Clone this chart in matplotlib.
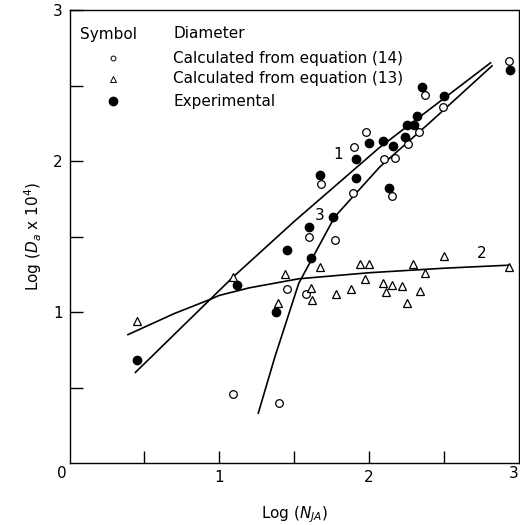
import matplotlib
matplotlib.use("Agg")
import matplotlib.pyplot as plt

# Experimental (filled circles)
exp_x = [0.45, 1.12, 1.38, 1.45, 1.61, 1.60, 1.76, 1.67, 1.91, 1.91, 2.00,
         2.09, 2.16, 2.13, 2.24, 2.25, 2.30, 2.32, 2.35, 2.50, 2.94]
exp_y = [0.68, 1.18, 1.00, 1.41, 1.36, 1.56, 1.63, 1.91, 1.89, 2.01, 2.12,
         2.13, 2.10, 1.82, 2.16, 2.24, 2.24, 2.30, 2.49, 2.43, 2.60]

# Calculated from equation (14) (open circles)
eq14_x = [1.09, 1.40, 1.45, 1.58, 1.60, 1.77, 1.68, 1.89, 1.90, 1.98, 2.10,
          2.17, 2.15, 2.26, 2.33, 2.37, 2.49, 2.93]
eq14_y = [0.46, 0.40, 1.15, 1.12, 1.50, 1.48, 1.85, 1.79, 2.09, 2.19, 2.01,
          2.02, 1.77, 2.11, 2.19, 2.44, 2.36, 2.66]

# Calculated from equation (13) (open triangles)
eq13_x = [0.45, 1.09, 1.39, 1.44, 1.67, 1.61, 1.62, 1.78, 1.88, 1.94, 2.00,
          1.97, 2.09, 2.15, 2.11, 2.22, 2.25, 2.34, 2.29, 2.37, 2.50, 2.93]
eq13_y = [0.94, 1.23, 1.06, 1.25, 1.30, 1.16, 1.08, 1.12, 1.15, 1.32, 1.32,
          1.22, 1.19, 1.18, 1.13, 1.17, 1.06, 1.14, 1.32, 1.26, 1.37, 1.30]

# Fitted curves
c1_x = [0.44, 1.09, 1.50, 2.07, 2.81]
c1_y = [0.60, 1.23, 1.60, 2.09, 2.65]
c2_x = [0.39, 0.70, 0.93, 1.00, 1.20, 1.53, 2.00, 2.50, 2.93]
c2_y = [0.85, 0.99, 1.08, 1.11, 1.16, 1.22, 1.26, 1.29, 1.31]
c3_x = [1.26, 1.37, 1.53, 1.77, 2.07, 2.40, 2.82]
c3_y = [0.33, 0.70, 1.19, 1.63, 1.96, 2.25, 2.63]

fig = plt.figure(figsize=(5.2, 5.25), dpi=100)
ax = fig.add_axes([69.5 / 520, 1 - 463 / 525, (519 - 69.5) / 520, (463 - 10) / 525])
ax.set_xlim(0, 3)
ax.set_ylim(0, 3)

lw = 1.2
ax.plot(c1_x, c1_y, color="black", lw=lw)
ax.plot(c2_x, c2_y, color="black", lw=lw)
ax.plot(c3_x, c3_y, color="black", lw=lw)

ax.plot(eq14_x, eq14_y, "o", ms=5.5, mfc="white", mec="black", mew=0.9, ls="none")
ax.plot(eq13_x, eq13_y, "^", ms=6, mfc="white", mec="black", mew=0.9, ls="none")
ax.plot(exp_x, exp_y, "o", ms=6, mfc="black", mec="black", ls="none")

fs = 11
ax.text(1.79, 2.04, "1", fontsize=fs, ha="center", va="center")
ax.text(1.67, 1.64, "3", fontsize=fs, ha="center", va="center")
ax.text(2.75, 1.39, "2", fontsize=fs, ha="center", va="center")

# Legend block
def px2d(px, py):
    return ((px - 69.5) / 149.8, (463 - py) / 151.0)

hx, hy = px2d(80, 34)
ax.text(hx, hy, "Symbol", fontsize=fs, ha="left", va="center")
tx, _ = px2d(173, 34)
ax.text(tx, hy, "Diameter", fontsize=fs, ha="left", va="center")
rows = [(58, "Calculated from equation (14)"),
        (79, "Calculated from equation (13)"),
        (101, "Experimental")]
mx, _ = px2d(113, 0)
for i, (py, lab) in enumerate(rows):
    _, yy = px2d(0, py)
    ax.text(tx, yy, lab, fontsize=fs, ha="left", va="center")
    if i == 0:
        ax.plot([mx], [yy], "o", ms=3.5, mfc="white", mec="black", mew=0.7)
    elif i == 1:
        ax.plot([mx], [yy], "^", ms=3.8, mfc="white", mec="black", mew=0.7)
    else:
        ax.plot([mx], [yy], "o", ms=6, mfc="black", mec="black")

ax.set_xticks([0.5, 1, 1.5, 2, 2.5])
ax.set_xticklabels(["", "1", "", "2", ""])
ax.set_yticks([0.5, 1, 1.5, 2, 2.5, 3])
ax.set_yticklabels(["", "1", "", "2", "", "3"])
ax.tick_params(direction="in", length=9, width=1, labelsize=fs, pad=5)
ax.text(-0.05, -0.07, "0", fontsize=fs, ha="center", va="center", clip_on=False)
ax.text(3.0, -0.07, "3", fontsize=fs, ha="right", va="center", clip_on=False)

for s in ax.spines.values():
    s.set_linewidth(1.0)

ax.set_xlabel(r"Log ($N_{JA}$)", fontsize=fs, labelpad=14)
ax.set_ylabel(r"Log ($D_{a}$ x 10$^4$)", fontsize=fs, labelpad=6)

fig.savefig("out.png", dpi=100)
